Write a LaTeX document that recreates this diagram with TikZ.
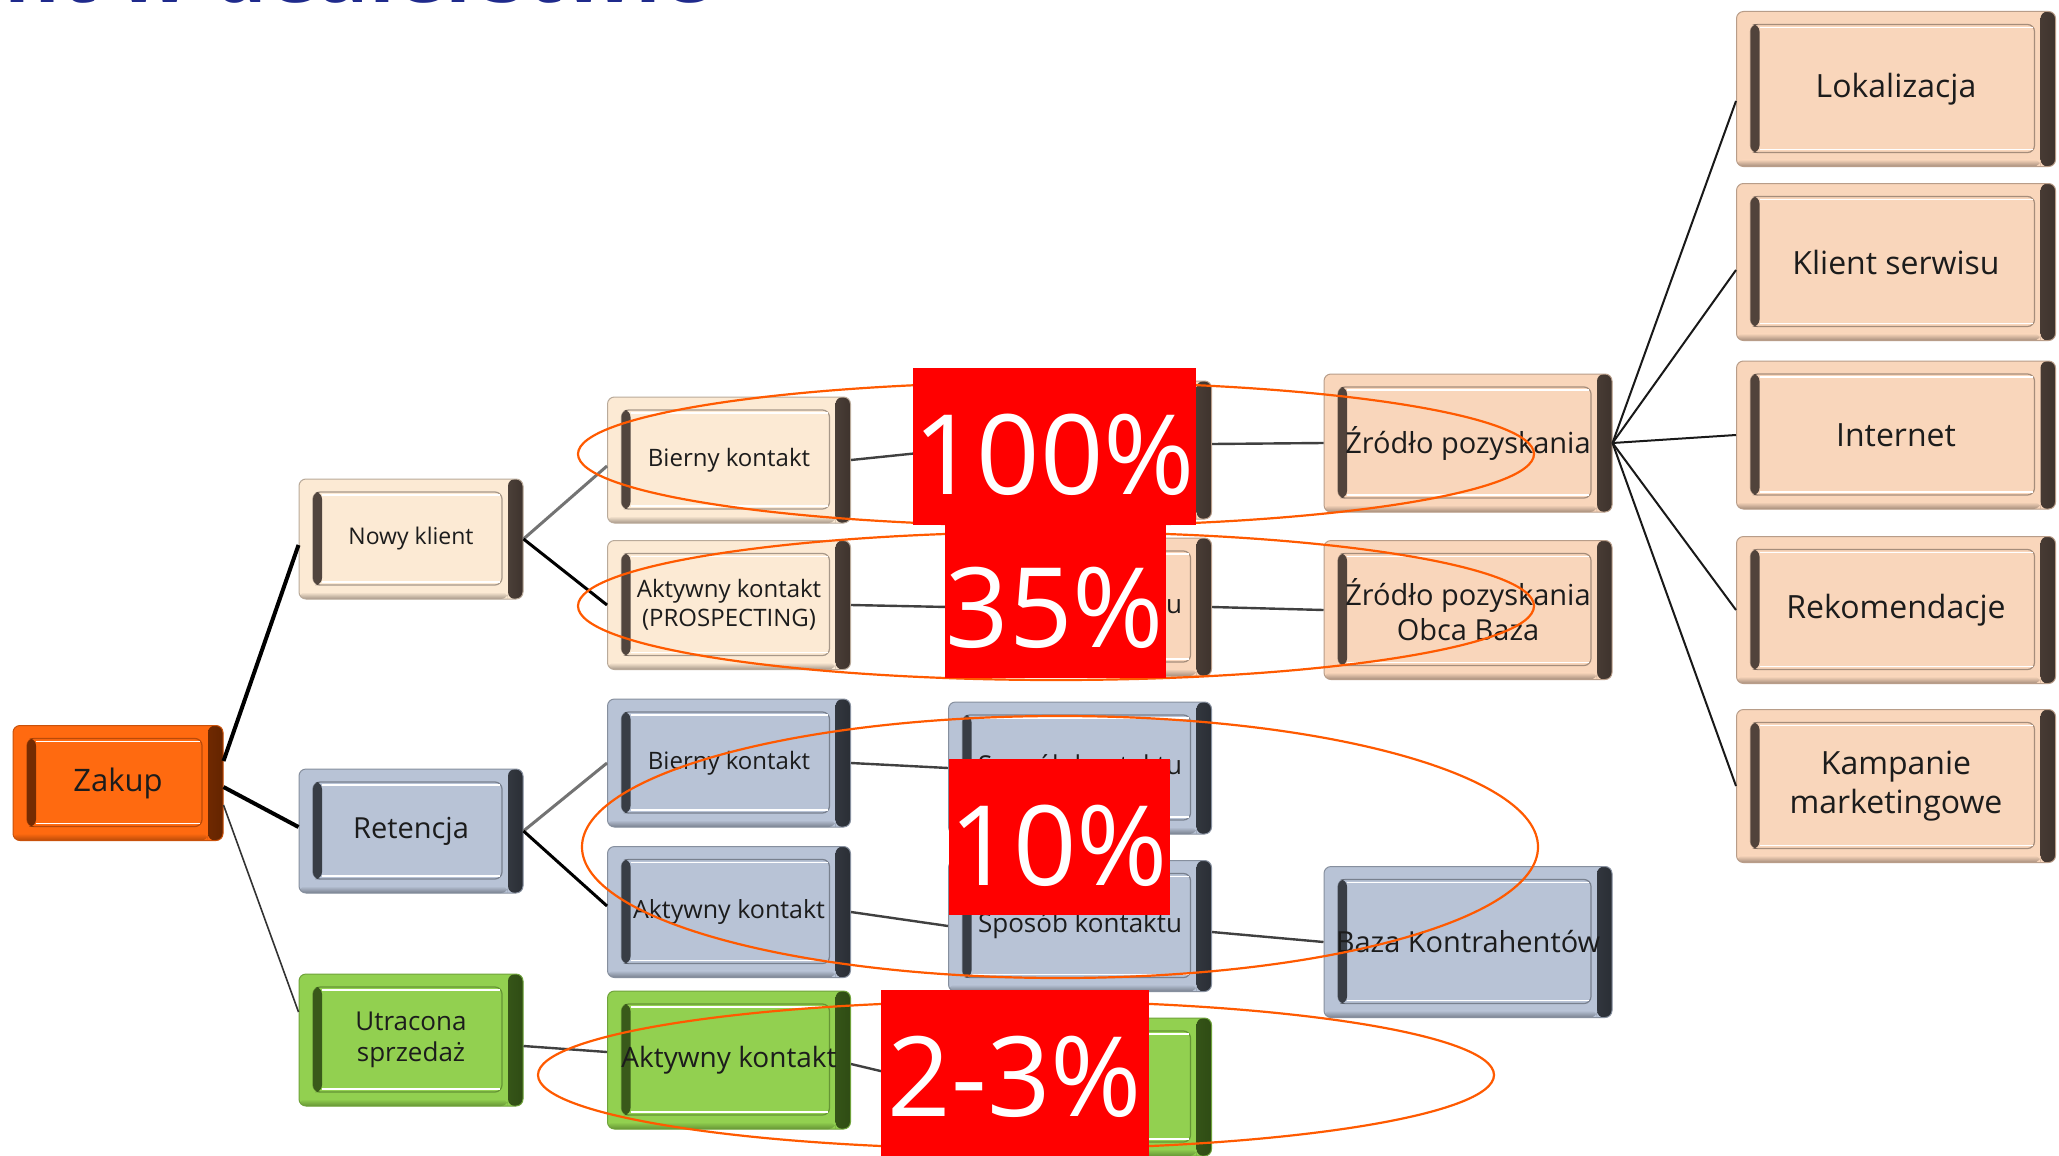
\documentclass[tikz,border=0pt]{standalone}
\usepackage{fontspec}
\setmainfont{Open Sans}
\definecolor{cream}{HTML}{FCEAD4}
\definecolor{peach}{HTML}{F9D6BB}
\definecolor{peachdk}{HTML}{3E332D}
\definecolor{bluef}{HTML}{B8C3D6}
\definecolor{bluedk}{HTML}{2A2E35}
\definecolor{greenf}{HTML}{92D050}
\definecolor{greendk}{HTML}{2F4C14}
\definecolor{orangef}{HTML}{FF6A10}
\definecolor{orangedk}{HTML}{642400}
\definecolor{ringc}{HTML}{FF5A00}
\definecolor{titleblue}{HTML}{1F2A8C}
\definecolor{txt}{HTML}{1C1C1C}
\definecolor{pctred}{HTML}{FF0000}
\tikzset{
  bev/.style n args={2}{
    rectangle, rounded corners=7pt, fill=#1, draw=#2!35!#1, line width=1pt,
    align=center, text=txt, inner sep=2pt,
    path picture={
      \shade[left color=#1, right color=#2]
        ([xshift=-15pt]path picture bounding box.north east) rectangle (path picture bounding box.south east);
      \shade[top color=#1, bottom color=#2!45!#1]
        ([yshift=7pt]path picture bounding box.south west) rectangle ([xshift=-15pt]path picture bounding box.south east);
      \draw[#2!45!#1, line width=1.2pt]
        ([shift={(14pt,-13pt)}]path picture bounding box.north west) rectangle ([shift={(-21pt,14pt)}]path picture bounding box.south east);
      \draw[white, line width=1.6pt]
        ([shift={(23pt,-16pt)}]path picture bounding box.north west) -- ([shift={(-23pt,-16pt)}]path picture bounding box.north east);
      \draw[white, line width=1.2pt]
        ([shift={(23pt,17pt)}]path picture bounding box.south west) -- ([shift={(-23pt,17pt)}]path picture bounding box.south east);
      \fill[#2!90!#1]
        ([shift={(14pt,-13pt)}]path picture bounding box.north west) rectangle ([shift={(23pt,14pt)}]path picture bounding box.south west);
    }},
  bcream/.style={bev={cream}{peachdk}},
  bpeach/.style={bev={peach}{peachdk}},
  bblue/.style={bev={bluef}{bluedk}},
  bgreen/.style={bev={greenf}{greendk}},
  borange/.style={bev={orangef}{orangedk}},
  fs/.style={font=\fontsize{#1}{\the\dimexpr #1pt*6/5\relax}\selectfont},
  pct/.style={fill=pctred, text=white, inner sep=0pt, font=\fontsize{111}{112}\selectfont},
  ring/.style={draw=ringc, line width=2.2pt},
  thick1/.style={draw=black, line width=4pt},
  thin1/.style={draw=black!80, line width=1.6pt},
  gray1/.style={draw=black!55, line width=3pt},
  blk1/.style={draw=black, line width=3pt},
  link/.style={draw=black!75, line width=2.4pt},
  fan/.style={draw=black!90, line width=2pt},
}
\begin{document}
\begin{tikzpicture}[x=1pt,y=-1pt]
\useasboundingbox (0,0) rectangle (2059,1156);
\clip (0,0) rectangle (2059,1156);
\fill[white] (0,0) rectangle (2059,1156);

% title (cut off at top)
\node[anchor=base west, inner sep=0pt, text=titleblue, font=\fontsize{85}{85}\selectfont\bfseries] (title) at (4,3) {nt w dealerstwie};

% column 0-1
\node[borange, fs=31, minimum width=210pt, minimum height=115pt] (zakup) at (118,783) {Zakup};
\node[bcream, fs=23, minimum width=224pt, minimum height=120pt] (nowy) at (411,539) {Nowy klient};
\node[bblue, fs=29, minimum width=224pt, minimum height=124pt] (ret) at (411,831) {Retencja};
\node[bgreen, fs=26, minimum width=224pt, minimum height=132pt] (utr) at (411,1040) {Utracona\\sprzedaż};

% column 2
\node[bcream, fs=24, minimum width=243pt, minimum height=126pt] (b1) at (729,460) {Bierny kontakt};
\node[bcream, fs=24, minimum width=243pt, minimum height=129pt] (a1) at (729,605) {Aktywny kontakt\\(PROSPECTING)};
\node[bblue, fs=24, minimum width=243pt, minimum height=128pt] (b2) at (729,763) {Bierny kontakt};
\node[bblue, fs=25, minimum width=243pt, minimum height=131pt] (a2) at (729,912) {Aktywny kontakt};
\node[bgreen, fs=28, minimum width=243pt, minimum height=138pt] (a3) at (729,1060) {Aktywny kontakt};

% column 3
\node[bpeach, fs=26, minimum width=263pt, minimum height=138pt] (c1) at (1080,450) {Sposób kontaktu};
\node[bpeach, fs=26, minimum width=263pt, minimum height=138pt] (c2) at (1080,607) {Sposób kontaktu};
\node[bblue, fs=26, minimum width=263pt, minimum height=132pt] (c3) at (1080,768) {Sposób kontaktu};
\node[bblue, fs=26, minimum width=263pt, minimum height=131pt] (c4) at (1080,926) {Sposób kontaktu};
\node[bgreen, fs=26, minimum width=263pt, minimum height=138pt] (c5) at (1080,1087) {};

% column 4
\node[bpeach, fs=29, minimum width=288pt, minimum height=138pt] (zr1) at (1468,443) {Źródło pozyskania};
\node[bpeach, fs=29, minimum width=288pt, minimum height=139pt] (zr2) at (1468,610) {Źródło pozyskania\\Obca Baza};
\node[bblue, fs=29, minimum width=288pt, minimum height=151pt] (baza) at (1468,942) {Baza Kontrahentów};

% column 5
\node[bpeach, fs=32, minimum width=319pt, minimum height=155pt] (lok) at (1896,89) {Lokalizacja};
\node[bpeach, fs=32, minimum width=319pt, minimum height=157pt] (kse) at (1896,262) {Klient serwisu};
\node[bpeach, fs=32, minimum width=319pt, minimum height=148pt] (int) at (1896,435) {Internet};
\node[bpeach, fs=32, minimum width=319pt, minimum height=147pt] (rek) at (1896,610) {Rekomendacje};
\node[bpeach, fs=32, minimum width=319pt, minimum height=153pt] (kam) at (1896,786) {Kampanie\\marketingowe};

% connectors
\draw[thick1] ([yshift=22pt]zakup.east) -- ([yshift=-6pt]nowy.west);
\draw[thick1] ([yshift=-4pt]zakup.east) -- ([yshift=4pt]ret.west);
\draw[thin1] ([yshift=-22pt]zakup.east) -- ([yshift=28pt]utr.west);
\draw[gray1] (nowy.east) -- ([yshift=-6pt]b1.west);
\draw[blk1] (nowy.east) -- (a1.west);
\draw[gray1] (ret.east) -- (b2.west);
\draw[blk1] (ret.east) -- ([yshift=6pt]a2.west);
\draw[link] ([yshift=-6pt]utr.east) -- ([yshift=8pt]a3.west);
\draw[link] (b1.east) -- (c1.west);
\draw[link] (a1.east) -- (c2.west);
\draw[link] (b2.east) -- (c3.west);
\draw[link] (a2.east) -- (c4.west);
\draw[link] ([yshift=-4pt]a3.east) -- (c5.west);
\draw[link] ([yshift=6pt]c1.east) -- (zr1.west);
\draw[link] (c2.east) -- (zr2.west);
\draw[link] ([yshift=-6pt]c4.east) -- (baza.west);
\draw[fan] (zr1.east) -- ([yshift=-12pt]lok.west);
\draw[fan] (zr1.east) -- ([yshift=-8pt]kse.west);
\draw[fan] (zr1.east) -- (int.west);
\draw[fan] (zr1.east) -- (rek.west);
\draw[fan] (zr1.east) -- (kam.west);

% rings
\draw[ring] (1056,454) ellipse [x radius=478pt, y radius=72pt];
\draw[ring] (1056,606) ellipse [x radius=478pt, y radius=74pt];
\draw[ring] (1060,847) ellipse [x radius=478pt, y radius=131pt];
\draw[ring] (1016,1075) ellipse [x radius=478pt, y radius=74pt];

% percentages
\node[pct, minimum width=283pt, minimum height=157pt] (p100) at (1054,446) {\raisebox{-9pt}[\height][\depth]{100\%}};
\node[pct, minimum width=221pt, minimum height=153pt] (p35) at (1055,601) {\raisebox{-7pt}[\height][\depth]{35\%}};
\node[pct, minimum width=221pt, minimum height=156pt] (p10) at (1059,837) {\raisebox{-9pt}[\height][\depth]{10\%}};
\node[pct, minimum width=268pt, minimum height=170pt] (p23) at (1015,1075) {\raisebox{-2pt}[\height][\depth]{2-3\%}};
\end{tikzpicture}
\end{document}
